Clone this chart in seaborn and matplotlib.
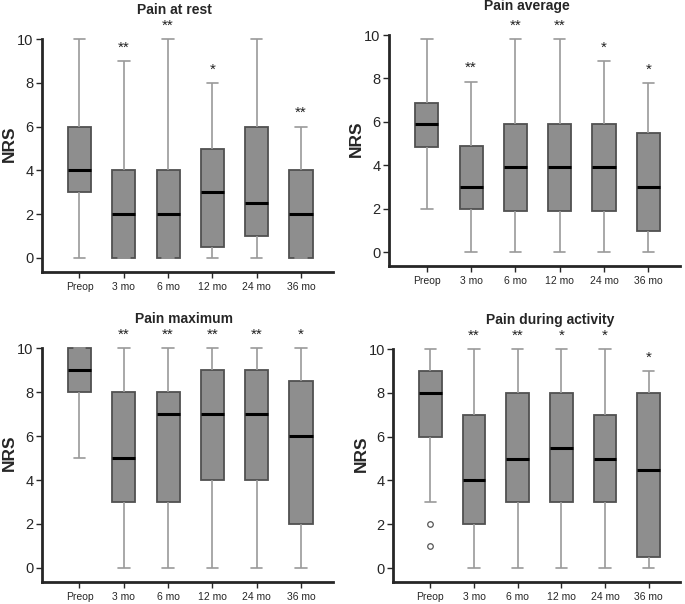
import matplotlib
matplotlib.use("Agg")
import matplotlib.pyplot as plt
import numpy as np
import pandas as pd
import seaborn as sns

# time points (x categories)
timepoints = ["Preop", "3 mo", "6 mo", "12 mo", "24 mo", "36 mo"]

# five-number summaries per time point: min, q1, median, q3, max
rest_stats = [[0, 3, 4, 6, 10], [0, 0, 2, 4, 9], [0, 0, 2, 4, 10],
              [0, 0.5, 3, 5, 8], [0, 1, 2.5, 6, 10], [0, 0, 2, 4, 6]]
average_stats = [[2, 4.85, 5.9, 6.85, 9.8], [0, 2, 3, 4.9, 7.85], [0, 1.9, 3.9, 5.9, 9.8],
                 [0, 1.9, 3.9, 5.9, 9.8], [0, 1.9, 3.9, 5.9, 8.8], [0, 0.95, 3, 5.5, 7.8]]
maximum_stats = [[5, 8, 9, 10, 10], [0, 3, 5, 8, 10], [0, 3, 7, 8, 10],
                 [0, 4, 7, 9, 10], [0, 4, 7, 9, 10], [0, 2, 6, 8.5, 10]]
activity_stats = [[3, 6, 8, 9, 10], [0, 2, 4, 7, 10], [0, 3, 5, 8, 10],
                  [0, 3, 5.5, 8, 10], [0, 3, 5, 7, 10], [0, 0.5, 4.5, 8, 9]]

# significance marks
rest_sig = ["", "**", "**", "*", "", "**"]
average_sig = ["", "**", "**", "**", "*", "*"]
maximum_sig = ["", "**", "**", "**", "**", "*"]
activity_sig = ["", "**", "**", "*", "*", "*"]

# outliers (time point, value)
activity_outliers_x = ["Preop", "Preop"]
activity_outliers_y = [1, 2]

# title, data, marks, axes rect, title x, outliers
panels = [
    ("Pain at rest", rest_stats, rest_sig, [0.061, 0.5497, 0.425, 0.3873], 0.457, None),
    ("Pain average", average_stats, average_sig, [0.568, 0.5596, 0.425, 0.3841], 0.474, None),
    ("Pain maximum", maximum_stats, maximum_sig, [0.061, 0.0364, 0.425, 0.3891], 0.49, None),
    ("Pain during activity", activity_stats, activity_sig, [0.574, 0.0364, 0.419, 0.3874], 0.547,
     (activity_outliers_x, activity_outliers_y)),
]

sns.set_style("ticks")
plt.rcParams["font.family"] = ["Liberation Sans", "DejaVu Sans"]

fig = plt.figure(figsize=(6.85, 6.04), dpi=100)

for title, stats, sig, rect, title_x, outliers in panels:
    ax = fig.add_axes(rect)
    df = pd.DataFrame([(tp, v) for tp, vals in zip(timepoints, stats) for v in vals],
                      columns=["time", "NRS"])
    sns.boxplot(data=df, x="time", y="NRS", order=timepoints, whis=(0, 100),
                showfliers=False, width=0.52, color="#8e8e8e", linewidth=1.3,
                boxprops=dict(facecolor="#8e8e8e", edgecolor="#505050"),
                whiskerprops=dict(color="#9a9a9a", linewidth=1.2),
                capprops=dict(color="#9a9a9a", linewidth=1.2),
                medianprops=dict(color="black", linewidth=2.2),
                ax=ax)
    if outliers is not None:
        ox = [timepoints.index(t) for t in outliers[0]]
        ax.scatter(ox, outliers[1], s=16, facecolors="white", edgecolors="#555555",
                   linewidths=0.9, zorder=4)
    for i, (s, vals) in enumerate(zip(sig, stats)):
        if s:
            ax.text(i, vals[-1] + 0.3, s, ha="center", va="bottom", fontsize=11,
                    color="#222222")
    ax.set_xlim(-0.85, 5.72)
    ax.set_ylim(-0.64, 10.05)
    ax.set_yticks([0, 2, 4, 6, 8, 10])
    ax.spines["top"].set_visible(False)
    ax.spines["right"].set_visible(False)
    ax.spines["left"].set_bounds(-0.64, 10)
    ax.spines["left"].set_linewidth(2)
    ax.spines["bottom"].set_linewidth(2)
    ax.tick_params(axis="y", labelsize=10.5, length=4, width=1, pad=2)
    ax.tick_params(axis="x", labelsize=7.5, length=4, width=1, pad=3)
    ax.set_xlabel("")
    ax.set_ylabel("NRS", fontsize=12.5, fontweight="bold")
    ax.yaxis.set_label_coords(-0.085, 0.55)
    ax.set_title(title, fontsize=10, fontweight="bold", pad=17, x=title_x)

fig.savefig("out.png", dpi=100)
